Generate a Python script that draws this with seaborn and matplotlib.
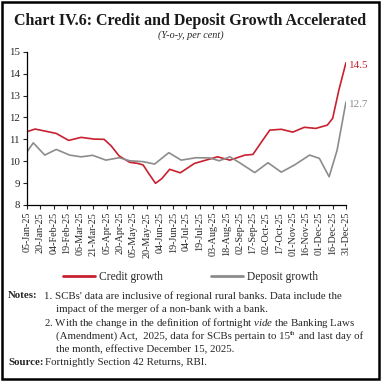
import pandas as pd
import numpy as np
import matplotlib
matplotlib.use("Agg")
import matplotlib.pyplot as plt
from matplotlib.patches import Rectangle
import seaborn as sns

# ========== DATA ==========
credit_dates = ["2025-01-05", "2025-01-14", "2025-01-25", "2025-02-07", "2025-02-21",
                "2025-03-07", "2025-03-22", "2025-04-02", "2025-04-10", "2025-04-19",
                "2025-05-01", "2025-05-10", "2025-05-16", "2025-05-23", "2025-05-30",
                "2025-06-06", "2025-06-15", "2025-06-27", "2025-07-13", "2025-07-26",
                "2025-08-08", "2025-08-22", "2025-09-08", "2025-09-17", "2025-09-27",
                "2025-10-06", "2025-10-19", "2025-11-01", "2025-11-14", "2025-11-27",
                "2025-12-10", "2025-12-16", "2025-12-23", "2025-12-31"]
credit_growth = [11.35, 11.47, 11.38, 11.27, 10.95,
                 11.09, 11.01, 11.00, 10.70, 10.24,
                 9.95, 9.90, 9.83, 9.40, 8.99,
                 9.20, 9.63, 9.47, 9.90, 10.05,
                 10.20, 10.05, 10.28, 10.31, 10.90,
                 11.42, 11.46, 11.33, 11.55, 11.50,
                 11.65, 11.96, 13.25, 14.5]

deposit_dates = ["2025-01-05", "2025-01-12", "2025-01-25", "2025-02-07", "2025-02-22",
                 "2025-03-07", "2025-03-20", "2025-04-04", "2025-04-19", "2025-05-01",
                 "2025-05-16", "2025-05-29", "2025-06-14", "2025-06-28", "2025-07-15",
                 "2025-07-30", "2025-08-10", "2025-08-22", "2025-09-02", "2025-09-19",
                 "2025-10-04", "2025-10-19", "2025-11-03", "2025-11-20", "2025-12-01",
                 "2025-12-12", "2025-12-21", "2025-12-31"]
deposit_growth = [10.43, 10.84, 10.28, 10.54, 10.28,
                  10.20, 10.27, 10.05, 10.16, 10.02,
                  9.98, 9.87, 10.39, 10.05, 10.16,
                  10.15, 10.02, 10.20, 9.93, 9.48,
                  9.93, 9.50, 9.83, 10.28, 10.13,
                  9.29, 10.50, 12.7]

series_names = ["Credit growth", "Deposit growth"]
series_colors = ["#c8202f", "#8c8c8c"]
end_labels = ["14.5", "12.7"]

# ========== FRAME ==========
df = pd.concat([
    pd.DataFrame({"date": pd.to_datetime(credit_dates), "value": credit_growth, "series": series_names[0]}),
    pd.DataFrame({"date": pd.to_datetime(deposit_dates), "value": deposit_growth, "series": series_names[1]}),
])

sns.set_style("ticks")
plt.rcParams["font.family"] = ["Liberation Serif", "DejaVu Serif"]
plt.rcParams["mathtext.fontset"] = "custom"
plt.rcParams["mathtext.rm"] = "Liberation Serif"
plt.rcParams["mathtext.it"] = "Liberation Serif:italic"

fig = plt.figure(figsize=(3.81, 3.81), dpi=100)
ax = fig.add_axes([0.071, 0.462, 0.837, 0.402])

sns.lineplot(data=df, x="date", y="value", hue="series", palette=series_colors,
             linewidth=1.2, ax=ax, legend=False)

ax.set_ylim(8, 15)
ax.set_yticks(range(8, 16))
ax.set_xlim(pd.Timestamp("2025-01-05"), pd.Timestamp("2025-12-31"))
ticks = pd.date_range("2025-01-05", "2025-12-31", freq="15D")
ax.set_xticks(ticks)
ax.set_xticklabels([t.strftime("%d-%b-%y") for t in ticks], rotation=90, fontsize=7.3)
ax.tick_params(axis="y", labelsize=7.8, length=3, width=0.8, pad=2)
ax.tick_params(axis="x", length=3, width=0.8, pad=2)
ax.set_xlabel("")
ax.set_ylabel("")
sns.despine(ax=ax)
for s in ["left", "bottom"]:
    ax.spines[s].set_color("black")
    ax.spines[s].set_linewidth(0.9)

# end labels
for vals, dates, col, lab in [(credit_growth, credit_dates, series_colors[0], end_labels[0]),
                              (deposit_growth, deposit_dates, series_colors[1], end_labels[1])]:
    ax.annotate(lab, (pd.Timestamp(dates[-1]), vals[-1]), xytext=(2, -2),
                textcoords="offset points", color=col, fontsize=8, va="center",
                annotation_clip=False)

# legend
handles = [plt.Line2D([], [], color=c, lw=2) for c in series_colors]
fig.legend(handles, series_names, loc="center", bbox_to_anchor=(0.5, 0.272), ncol=2,
           frameon=False, fontsize=8.3, handlelength=2.8, columnspacing=4.2, handletextpad=0.3)

# titles
fig.text(0.5, 0.965, "Chart IV.6: Credit and Deposit Growth Accelerated",
         ha="center", va="top", fontsize=11.5, fontweight="bold", color="#1a1a1a")
fig.text(0.5, 0.92, "(Y-o-y, per cent)", ha="center", va="top", fontsize=7.3, style="italic")

# notes
fs = 7.8
y0 = 381 - 296
lh = 13.3
fig.text(8 / 381, y0 / 381, "Notes:", fontsize=fs, fontweight="bold", va="center")
fig.text(44 / 381, y0 / 381, "1. SCBs' data are inclusive of regional rural banks. Data include the",
         fontsize=fs, va="center")
fig.text(56 / 381, (y0 - lh) / 381, "impact of the merger of a non-bank with a bank.", fontsize=fs, va="center")
fig.text(44 / 381, (y0 - 2 * lh) / 381,
         "2. With the change in the definition of fortnight $\\mathit{vide}$ the Banking Laws",
         fontsize=fs, va="center")
t1 = fig.text(56 / 381, (y0 - 3 * lh) / 381,
              "(Amendment) Act,  2025, data for SCBs pertain to 15", fontsize=fs, va="center")
t2 = ax.annotate("th", xy=(1, 0.45), xycoords=t1, fontsize=5, va="bottom", ha="left",
                 annotation_clip=False)
ax.annotate(" and last day of", xy=(1, 0.5), xycoords=(t2, t1), fontsize=fs, va="center",
            ha="left", annotation_clip=False)
fig.text(56 / 381, (y0 - 4 * lh) / 381, "the month, effective December 15, 2025.", fontsize=fs, va="center")
fig.text(8 / 381, (y0 - 5 * lh) / 381, "Source:", fontsize=fs, fontweight="bold", va="center")
fig.text(45 / 381, (y0 - 5 * lh) / 381, "Fortnightly Section 42 Returns, RBI.", fontsize=fs, va="center")

# outer border
fig.patches.append(Rectangle((0.006, 0.006), 0.988, 0.988, transform=fig.transFigure,
                             fill=False, edgecolor="black", linewidth=1.8))

fig.savefig("out.png", dpi=100)
